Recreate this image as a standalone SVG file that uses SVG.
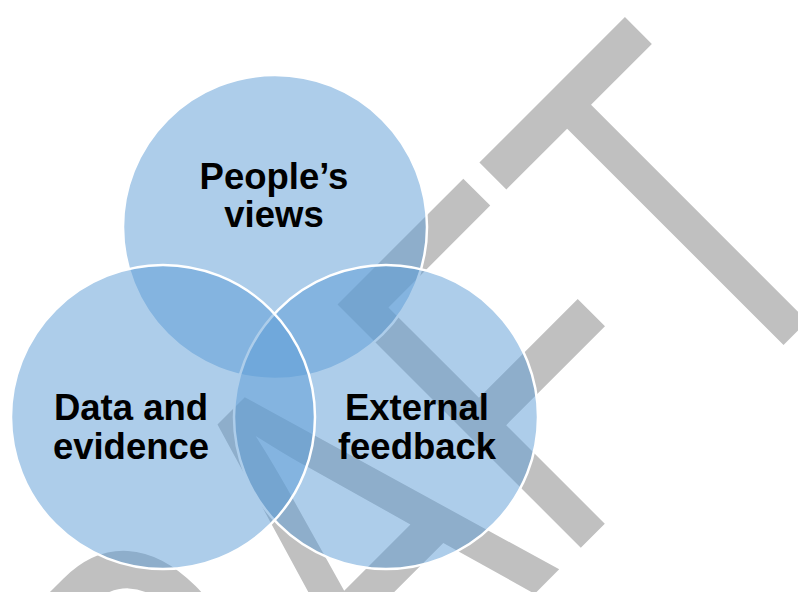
<svg xmlns="http://www.w3.org/2000/svg" width="798" height="592" viewBox="0 0 798 592">
  <style>
    .wm { fill: #C0C0C0; font-family: "Liberation Sans", Arial, sans-serif; font-size: 364px; }
    .set { fill: #5B9BD5; fill-opacity: 0.5; stroke: #FFFFFF; stroke-width: 2.5; }
    .label { fill: #000000; font-family: "Liberation Sans", Arial, sans-serif; font-weight: bold; font-size: 36.5px; text-anchor: middle; }
  </style>
  <rect width="798" height="592" fill="#FFFFFF"/>

  <!-- watermark behind the sets -->
  <g id="watermark">
    <text class="wm" transform="rotate(-45) scale(1,1.374)" x="-775" y="580.8">DRAFT</text>
  </g>

  <!-- three overlapping sets -->
  <g id="peoples-views">
    <circle class="set" cx="275" cy="227" r="152"/>
    <text class="label" x="274" y="189">People’s</text>
    <text class="label" x="274" y="227">views</text>
  </g>
  <g id="external-feedback">
    <circle class="set" cx="386" cy="417" r="152"/>
    <text class="label" x="417" y="420">External</text>
    <text class="label" x="417" y="459">feedback</text>
  </g>
  <g id="data-evidence">
    <circle class="set" cx="163" cy="417" r="152"/>
    <text class="label" x="131" y="420">Data and</text>
    <text class="label" x="131" y="459">evidence</text>
  </g>

  <!-- no connectors in this diagram -->
  <g id="connectors"></g>
</svg>
